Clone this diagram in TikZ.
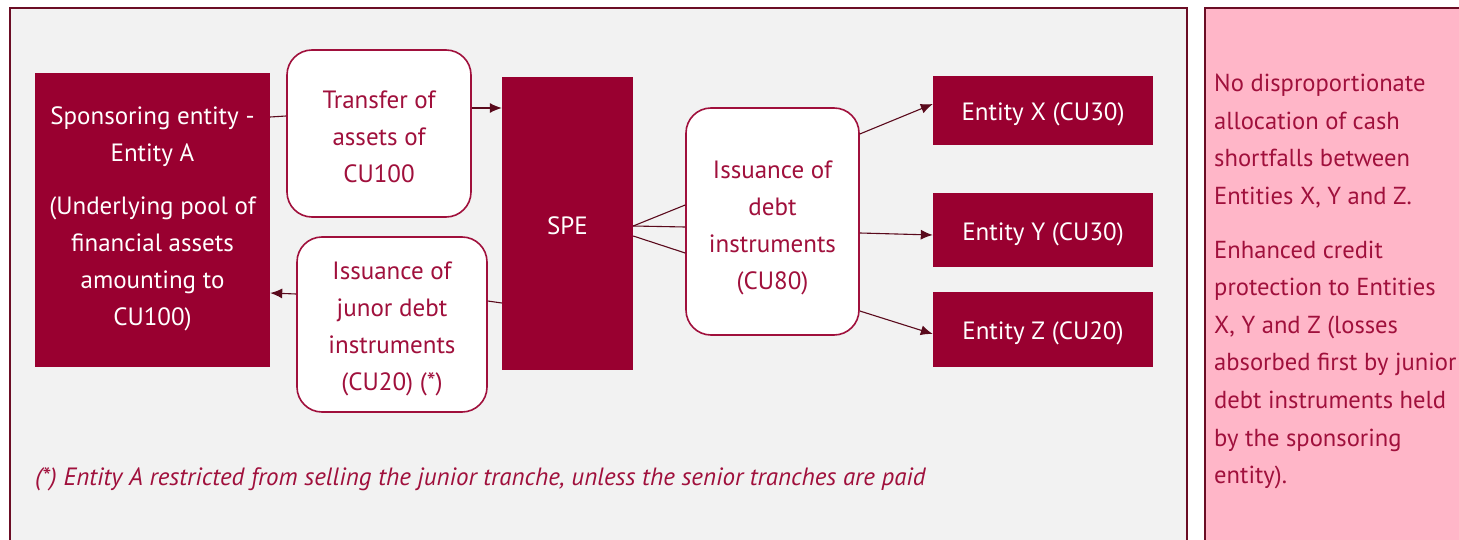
\documentclass[tikz,border=0pt]{standalone}
\usepackage{fontspec}
\setmainfont{PT Sans}
\usetikzlibrary{arrows.meta}
\definecolor{crim}{HTML}{990030}
\definecolor{crimtxt}{HTML}{A0103C}
\definecolor{edge}{HTML}{6B0D25}
\definecolor{tip}{HTML}{5A0A1C}
\definecolor{greybg}{HTML}{F2F2F2}
\definecolor{pinkbg}{HTML}{FFB6C8}
\newcommand{\fs}{\fontsize{25}{37}\selectfont}
\tikzset{
  solidbox/.style={fill=crim, draw=none, inner sep=0pt},
  roundbox/.style={fill=white, draw=crimtxt, line width=1.6pt, rounded corners=25pt, inner sep=0pt},
  wtext/.style={text=white, font=\fs, align=center, inner sep=0pt},
  rtext/.style={text=crimtxt, font=\fs, align=center, inner sep=0pt},
  conn/.style={draw=tip, line width=1.1pt},
  arr/.style={conn, -{Latex[length=12pt,width=10pt]}},
}
\begin{document}
\begin{tikzpicture}[x=1pt,y=-1pt]
\useasboundingbox (0,0) rectangle (1459,540);
\fill[white] (0,0) rectangle (1459,540);
\draw[fill=greybg, draw=edge, line width=2pt] (10,8) rectangle (1187,560);
\draw[fill=pinkbg, draw=edge, line width=2pt] (1205,8) rectangle (1470,560);

\node[solidbox, minimum width=235pt, minimum height=294pt,
  label={[wtext, name=sponT, yshift=1pt]center:{Sponsoring entity -\\Entity A\\[16pt](Underlying pool of\\financial assets\\amounting to\\CU100)}}] (spon) at (152.5,220) {};
\node[roundbox, minimum width=184pt, minimum height=167pt,
  label={[rtext, name=transT, yshift=-3pt]center:{Transfer of\\assets of\\CU100}}] (trans) at (379,133.5) {};
\node[roundbox, minimum width=190pt, minimum height=175pt,
  label={[rtext, name=junT, yshift=-4pt]center:{Issuance of\\junor debt\\instruments\\(CU20) (*)}}] (jun) at (392,324.5) {};
\node[solidbox, minimum width=131pt, minimum height=293pt,
  label={[wtext, name=speT, yshift=-2pt]center:SPE}] (spe) at (567.5,223.5) {};
\node[roundbox, minimum width=173pt, minimum height=227pt,
  label={[rtext, name=debtT, yshift=-6pt]center:{Issuance of\\debt\\instruments\\(CU80)}}] (debt) at (772.5,221.5) {};
\node[solidbox, minimum width=220pt, minimum height=69pt,
  label={[wtext, name=exT, yshift=-4pt]center:Entity X (CU30)}] (ex) at (1043,110.5) {};
\node[solidbox, minimum width=220pt, minimum height=74pt,
  label={[wtext, name=eyT, yshift=-4pt]center:Entity Y (CU30)}] (ey) at (1043,230) {};
\node[solidbox, minimum width=220pt, minimum height=75pt,
  label={[wtext, name=ezT, yshift=-4pt]center:Entity Z (CU20)}] (ez) at (1043,329.5) {};

\draw[conn] (spon.east |- 0,117) -- (trans.west |- 0,116);
\draw[arr] (trans.east |- 0,108) -- (spe.west |- 0,108);
\draw[conn] (spe.west |- 0,303) -- (jun.east |- 0,301);
\draw[arr] (jun.west |- 0,294) -- (spon.east |- 0,293);

\coordinate (s1) at (spe.east |- 0,226);
\draw[conn] (s1) -- (debt.west |- 0,205);
\draw[conn] (s1) -- (debt.west |- 0,227);
\draw[conn] (spe.east |- 0,236) -- (debt.west |- 0,253);

\draw[arr] (debt.east |- 0,134) -- (ex.west |- 0,104);
\draw[arr] (debt.east |- 0,233) -- (ey.west |- 0,235);
\draw[arr] (debt.east |- 0,311) -- (ez.west |- 0,334);

\node[anchor=west, text=crimtxt, font=\fontsize{25}{30}\selectfont\itshape, inner sep=0pt] (note) at (35,479)
  {(*) Entity A restricted from selling the junior tranche, unless the senior tranches are paid};

\node[anchor=north west, text=crimtxt, font=\fontsize{24.6}{37.6}\selectfont, align=left, inner sep=0pt] (side) at (1214,74)
  {No disproportionate\\allocation of cash\\shortfalls between\\Entities X, Y and Z.\\[16pt]
   Enhanced credit\\protection to Entities\\X, Y and Z (losses\\absorbed first by junior\\debt instruments held\\by the sponsoring\\entity).};
\end{tikzpicture}
\end{document}
